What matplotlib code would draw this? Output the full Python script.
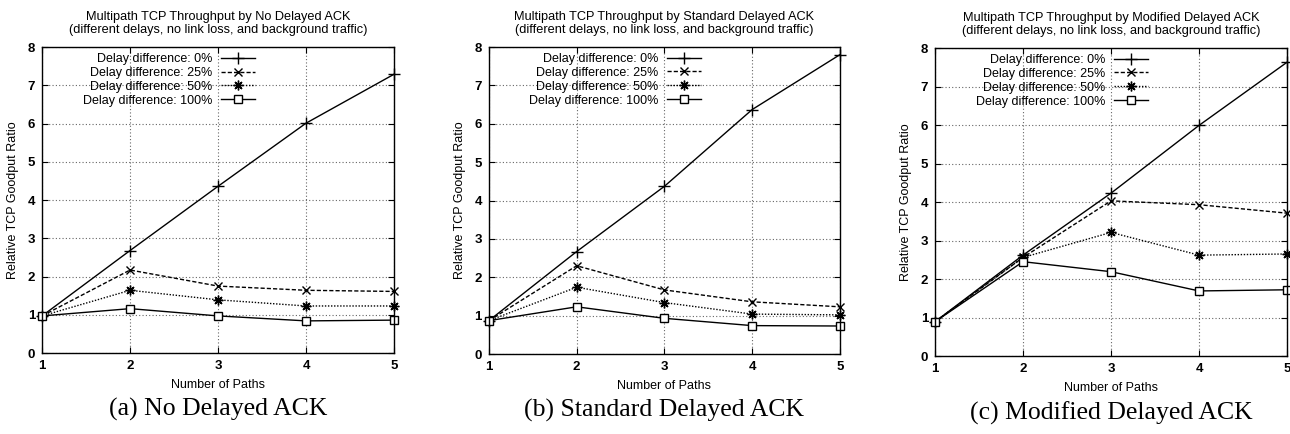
import matplotlib.pyplot as plt

# number of paths and relative goodput for each delay difference
paths = [1, 2, 3, 4, 5]
labels = ['Delay difference: 0%', 'Delay difference: 25%',
          'Delay difference: 50%', 'Delay difference: 100%']

no_ack_0 = [0.97, 2.68, 4.36, 6.01, 7.29]
no_ack_25 = [0.97, 2.17, 1.75, 1.64, 1.61]
no_ack_50 = [0.97, 1.64, 1.39, 1.23, 1.23]
no_ack_100 = [0.97, 1.16, 0.97, 0.84, 0.86]

std_ack_0 = [0.87, 2.67, 4.37, 6.37, 7.8]
std_ack_25 = [0.87, 2.30, 1.67, 1.36, 1.23]
std_ack_50 = [0.87, 1.74, 1.34, 1.04, 1.02]
std_ack_100 = [0.87, 1.23, 0.93, 0.74, 0.73]

mod_ack_0 = [0.89, 2.62, 4.23, 5.99, 7.63]
mod_ack_25 = [0.89, 2.56, 4.03, 3.93, 3.71]
mod_ack_50 = [0.89, 2.56, 3.21, 2.62, 2.65]
mod_ack_100 = [0.89, 2.45, 2.19, 1.69, 1.72]

titles = ['Multipath TCP Throughput by No Delayed ACK',
          'Multipath TCP Throughput by Standard Delayed ACK',
          'Multipath TCP Throughput by Modified Delayed ACK']
subtitle = '(different delays, no link loss, and background traffic)'
captions = ['(a) No Delayed ACK', '(b) Standard Delayed ACK', '(c) Modified Delayed ACK']

panels = [
    [no_ack_0, no_ack_25, no_ack_50, no_ack_100],
    [std_ack_0, std_ack_25, std_ack_50, std_ack_100],
    [mod_ack_0, mod_ack_25, mod_ack_50, mod_ack_100],
]

styles = [
    dict(linestyle='-', marker='+', markersize=8, markeredgewidth=1.0),
    dict(linestyle=(0, (3, 1.5)), marker='x', markersize=6, markeredgewidth=1.0),
    dict(linestyle=(0, (1, 1.2)), marker=(8, 2, 0), markersize=7, markeredgewidth=1.0),
    dict(linestyle='-', marker='s', markersize=6, markerfacecolor='white', markeredgewidth=1.0),
]

plt.rcParams['font.family'] = ['Liberation Sans', 'DejaVu Sans']

fig = plt.figure(figsize=(12.9, 4.34), dpi=100)
rects = [
    [0.0326, 0.1866, 0.2729, 0.705],
    [0.379, 0.1843, 0.2721, 0.7074],
    [0.7248, 0.1797, 0.2729, 0.7097],
]

for i, series in enumerate(panels):
    ax = fig.add_axes(rects[i])
    for s, lab, st in zip(series, labels, styles):
        ax.plot(paths, s, color='black', linewidth=1.0, label=lab, clip_on=False, **st)
    ax.set_xlim(1, 5)
    ax.set_ylim(0, 8)
    ax.set_xticks(paths)
    ax.set_yticks(range(0, 9))
    ax.grid(True, color='0.4', linestyle=(0, (1, 2)), linewidth=0.8)
    ax.tick_params(direction='in', top=True, right=True, labelsize=9.5, length=4, pad=5)
    for t in ax.get_xticklabels() + ax.get_yticklabels():
        t.set_fontweight('bold')
    for sp in ax.spines.values():
        sp.set_linewidth(1.0)
    ax.set_xlabel('Number of Paths', fontsize=9, labelpad=5)
    ax.set_ylabel('Relative TCP Goodput Ratio', fontsize=9, labelpad=6)
    ax.set_title(titles[i] + '\n' + subtitle, fontsize=9.2, pad=10, linespacing=1.1)
    ax.legend(loc='upper right', bbox_to_anchor=(0.625, 1.005), frameon=False,
              markerfirst=False, fontsize=9, handlelength=2.7, handletextpad=0.7,
              labelspacing=0.15, borderaxespad=0.2)
    ax.text(0.5, -0.185, captions[i], transform=ax.transAxes, ha='center', va='center',
            fontsize=18.5, family='Liberation Serif')

fig.savefig('out.png', dpi=100)
